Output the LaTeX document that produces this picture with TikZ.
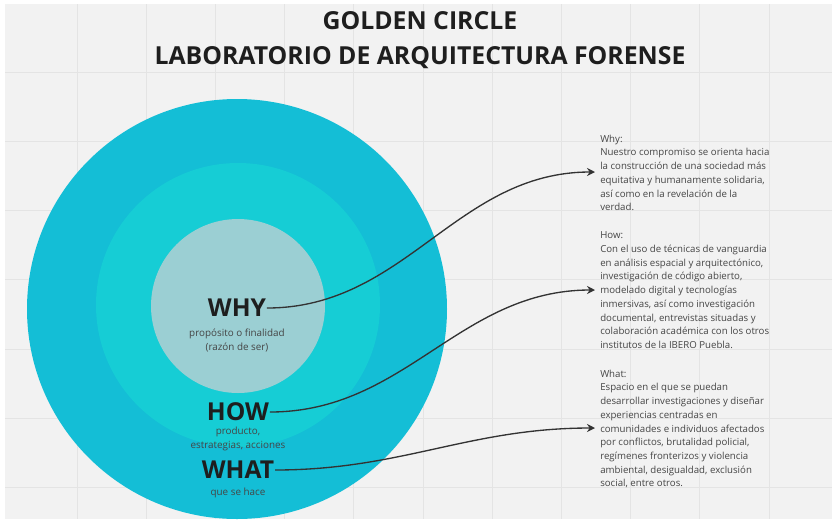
\documentclass[tikz,border=0pt]{standalone}
\usepackage{fontspec}
\setmainfont{Open Sans}
\usetikzlibrary{arrows.meta}
\definecolor{outerblue}{HTML}{14BED6}
\definecolor{midblue}{HTML}{16CDD5}
\definecolor{innergray}{HTML}{9BCFD3}
\definecolor{paper}{HTML}{F2F2F2}
\definecolor{gridline}{HTML}{E4E4E4}
\definecolor{ink}{HTML}{1E1E1E}
\definecolor{bodyink}{HTML}{454545}
\definecolor{linkink}{HTML}{333333}

\begin{document}
\begin{tikzpicture}[x=0.75pt,y=-0.75pt,
	ring/.style={circle,inner sep=0pt},
	titletext/.style={font=\bfseries\fontsize{18.6}{26.25}\selectfont,text=ink,align=center},
	bigword/.style={font=\bfseries\fontsize{18.5}{20}\selectfont,text=ink,inner sep=0.5pt},
	subword/.style={font=\fontsize{7.4}{10.5}\selectfont,text=bodyink,align=center,inner sep=0pt},
	notes/.style={font=\fontsize{7.25}{10.3}\selectfont,text=bodyink,align=left,anchor=north west,inner sep=0pt},
	link/.style={draw=linkink,line width=1pt,-{Stealth[length=6pt,width=6pt]}}]
				\useasboundingbox (0,0) rectangle (832,519);
				\fill[white] (0,0) rectangle (832,519);
				\fill[paper] (5,4) rectangle (832,519);
				\foreach \gx in {0,...,10}
					\draw[gridline,line width=0.75pt] ({77+69.2*\gx},4) -- ({77+69.2*\gx},519);
				\foreach \gy in {0,...,6}
					\draw[gridline,line width=0.75pt] (5,{72+69.3*\gy}) -- (832,{72+69.3*\gy});
				\node[titletext] (title) at (420,40) {GOLDEN CIRCLE\\LABORATORIO DE ARQUITECTURA FORENSE};
				\begin{scope}[every node/.style={ring}]
					\node[fill=outerblue,minimum size=315pt] (outer) at (237,309) {};
					\node[fill=midblue,minimum size=213pt] (middle) at (238,305) {};
					\node[fill=innergray,minimum size=130.5pt] (inner) at (238,306) {};
				\end{scope}
				\node[bigword] (why) at (237,308) {WHY};
				\node[subword] (whysub) at (237,340) {propósito o finalidad\\(razón de ser)};
				\node[bigword] (how) at (238,412) {HOW};
				\node[subword] (howsub) at (238,438.5) {producto,\\estrategias, acciones};
				\node[bigword] (what) at (238,470) {WHAT};
				\node[subword] (whatsub) at (238,493) {que se hace};
				\node[notes] (whynote) at (600,134.5) {Why:\\Nuestro compromiso se orienta hacia\\la construcción de una sociedad más\\equitativa y humanamente solidaria,\\así como en la revelación de la\\verdad.};
				\node[notes] (hownote) at (600,231.5) {How:\\Con el uso de técnicas de vanguardia\\en análisis espacial y arquitectónico,\\investigación de código abierto,\\modelado digital y tecnologías\\inmersivas, así como investigación\\documental, entrevistas situadas y\\colaboración académica con los otros\\institutos de la IBERO Puebla.};
				\node[notes] (whatnote) at (600,369.5) {What:\\Espacio en el que se puedan\\desarrollar investigaciones y diseñar\\experiencias centradas en\\comunidades e individuos afectados\\por conflictos, brutalidad policial,\\regímenes fronterizos y violencia\\ambiental, desigualdad, exclusión\\social, entre otros.};
				\coordinate (whytip) at (595,172);
				\coordinate (howtip) at (595,290);
				\coordinate (whattip) at (595,428);
				\draw[link] (why.east) to[out=0,in=180] (whytip);
				\draw[link] (how.east) to[out=0,in=180] (howtip);
				\draw[link] (what.east) to[out=0,in=180] (whattip);
			\end{tikzpicture}
\end{document}
